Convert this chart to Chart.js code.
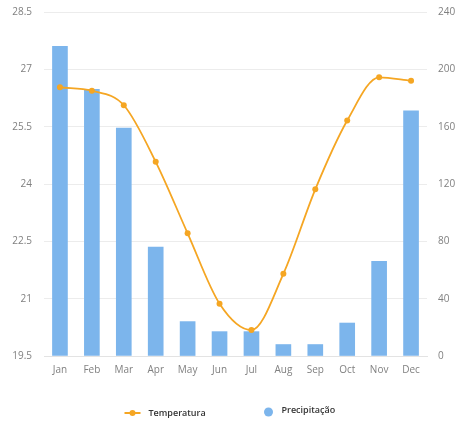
<!DOCTYPE html>
<html>
<head>
<meta charset="utf-8">
<script src="https://cdn.jsdelivr.net/npm/chart.js@4/dist/chart.umd.min.js"></script>
<style>
  html, body { margin: 0; padding: 0; background: #fff; overflow: hidden; }
  #wrap { position: relative; width: 470px; height: 421px; }
</style>
</head>
<body>
<div id="wrap"><canvas id="chart"></canvas></div>
<script>
// Monthly climate: temperature (°C, left axis) and precipitation (mm, right axis)
const months = ['Jan', 'Feb', 'Mar', 'Apr', 'May', 'Jun', 'Jul', 'Aug', 'Sep', 'Oct', 'Nov', 'Dec'];
const temperatura = [26.53, 26.44, 26.06, 24.58, 22.71, 20.87, 20.18, 21.65, 23.86, 25.66, 26.79, 26.70];
const precipitacao = [216, 186, 159, 76, 24, 17, 17, 8, 8, 23, 66, 171];
const tempTicks = [19.5, 21, 22.5, 24, 25.5, 27, 28.5];
const precTicks = [0, 40, 80, 120, 160, 200, 240];

const TEMP_COLOR = '#f5a623';
const PREC_COLOR = '#7cb5ec';
const TICK_COLOR = '#808080';
const GRID_COLOR = '#ececec';
const FONT = '"Open Sans", "Noto Sans", sans-serif';

// Legend drawn below the axis labels: line-with-dot for the line series, circle for the bars
const bottomLegend = {
  id: 'bottomLegend',
  afterDraw(chart) {
    const { ctx, chartArea } = chart;
    const cx = (chartArea.left + chartArea.right) / 2;
    ctx.save();
    ctx.font = '600 9px ' + FONT;
    ctx.textBaseline = 'middle';
    ctx.textAlign = 'left';

    const ds0 = chart.data.datasets[0];
    const y0 = 413;
    ctx.strokeStyle = ds0.borderColor;
    ctx.lineWidth = 2;
    ctx.beginPath();
    ctx.moveTo(cx - 111, y0);
    ctx.lineTo(cx - 95, y0);
    ctx.stroke();
    ctx.fillStyle = ds0.borderColor;
    ctx.beginPath();
    ctx.arc(cx - 103, y0, 3, 0, Math.PI * 2);
    ctx.fill();
    ctx.fillStyle = '#333';
    ctx.fillText(ds0.label, cx - 87, y0);

    const ds1 = chart.data.datasets[1];
    ctx.fillStyle = ds1.backgroundColor;
    ctx.beginPath();
    ctx.arc(cx + 33, 412, 4.5, 0, Math.PI * 2);
    ctx.fill();
    ctx.fillStyle = '#333';
    ctx.fillText(ds1.label, cx + 46, 410);
    ctx.restore();
  }
};

// Fixed axis box sizes keep the plot area in a set place
function fixVertical(width) {
  return function (scale) {
    scale.width = width;
    scale.paddingTop = 0;
    scale.paddingBottom = 0;
  };
}

new Chart(document.getElementById('chart'), {
  type: 'bar',
  data: {
    labels: months,
    datasets: [
      {
        type: 'line',
        label: 'Temperatura',
        data: temperatura,
        yAxisID: 'yTemp',
        borderColor: TEMP_COLOR,
        backgroundColor: TEMP_COLOR,
        pointBackgroundColor: TEMP_COLOR,
        pointBorderColor: TEMP_COLOR,
        borderWidth: 1.8,
        pointRadius: 3,
        pointBorderWidth: 0,
        cubicInterpolationMode: 'monotone',
        order: 0
      },
      {
        type: 'bar',
        label: 'Precipitação',
        data: precipitacao,
        yAxisID: 'yPrec',
        backgroundColor: PREC_COLOR,
        barThickness: 15,
        order: 1
      }
    ]
  },
  options: {
    responsive: true,
    maintainAspectRatio: false,
    animation: false,
    layout: { autoPadding: false, padding: { top: 12, bottom: 30, left: 0, right: 0 } },
    plugins: {
      legend: { display: false },
      tooltip: { enabled: false }
    },
    scales: {
      x: {
        grid: { display: false, drawTicks: false },
        border: { color: '#e3e3e3' },
        ticks: { color: TICK_COLOR, font: { family: FONT, size: 10 }, padding: 8 },
        afterFit(scale) {
          scale.height = 35;
          scale.paddingLeft = 0;
          scale.paddingRight = 0;
        }
      },
      yTemp: {
        position: 'left',
        min: 19.5,
        max: 28.5,
        afterBuildTicks(scale) { scale.ticks = tempTicks.map(v => ({ value: v })); },
        grid: { color: GRID_COLOR, drawTicks: false },
        border: { display: false },
        ticks: { color: TICK_COLOR, font: { family: FONT, size: 10 }, padding: 12 },
        afterFit: fixVertical(44)
      },
      yPrec: {
        position: 'right',
        min: 0,
        max: 240,
        afterBuildTicks(scale) { scale.ticks = precTicks.map(v => ({ value: v })); },
        grid: { drawOnChartArea: false, drawTicks: false },
        border: { display: false },
        ticks: { color: TICK_COLOR, font: { family: FONT, size: 10 }, padding: 11 },
        afterFit: fixVertical(43)
      }
    }
  },
  plugins: [bottomLegend]
});
</script>
</body>
</html>
